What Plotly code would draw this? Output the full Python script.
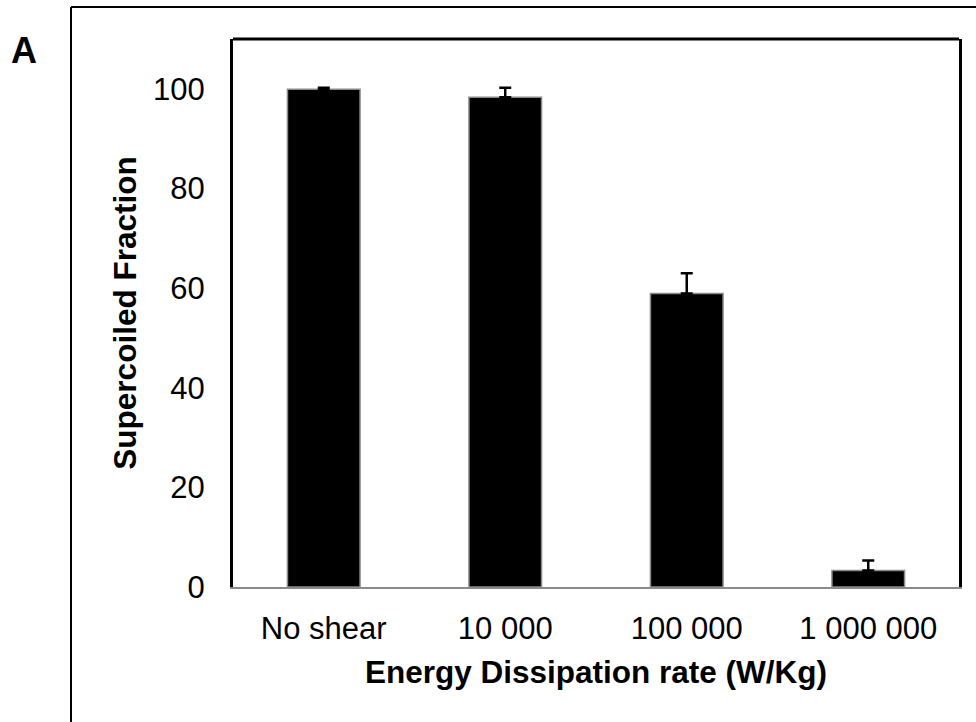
import plotly.graph_objects as go

# Supercoiled fraction of plasmid DNA after shear exposure
categories = ["No shear", "10 000", "100 000", "1 000 000"]
supercoiled = [99.9, 98.3, 58.9, 3.3]
error_up = [0.3, 1.9, 4.1, 2.0]
y_ticks = [0, 20, 40, 60, 80, 100]

W, H = 976, 722
ml, mr, mt, mb = 233, 17, 39, 135
pw, ph = W - ml - mr, H - mt - mb

def px_x(x):
    return (x - ml) / pw

def px_y(y):
    return (H - mb - y) / ph

fig = go.Figure(
    go.Bar(
        x=categories,
        y=supercoiled,
        width=0.4,
        marker=dict(color="black", line=dict(color="#8a8a8a", width=1.5)),
        error_y=dict(
            type="data",
            symmetric=False,
            array=error_up,
            arrayminus=[0] * len(error_up),
            color="black",
            thickness=2.5,
            width=6,
        ),
    )
)

font_family = "Liberation Sans, Arial, sans-serif"

fig.update_layout(
    width=W,
    height=H,
    margin=dict(l=ml, r=mr, t=mt, b=mb),
    paper_bgcolor="white",
    plot_bgcolor="white",
    showlegend=False,
    font=dict(family=font_family, color="black", size=31),
    bargap=0.6,
    xaxis=dict(
        showgrid=False,
        showline=True,
        linecolor="#8a8a8a",
        linewidth=2,
        ticks="",
        ticklabelstandoff=13,
        tickfont=dict(size=31),
        title=dict(
            text="<b>Energy Dissipation rate (W/Kg)</b>",
            font=dict(size=31.5),
            standoff=16,
        ),
    ),
    yaxis=dict(
        range=[0, 110],
        tickvals=y_ticks,
        showgrid=False,
        zeroline=False,
        showline=True,
        linecolor="black",
        linewidth=3,
        mirror=True,
        ticks="",
        ticklabelstandoff=19,
        tickfont=dict(size=31),
        title=dict(
            text="<b>Supercoiled Fraction</b>",
            font=dict(size=31.5),
            standoff=8,
        ),
    ),
    shapes=[
        # top edge of the plotting frame
        dict(type="line", xref="paper", yref="paper", x0=0, x1=1, y0=1, y1=1,
             line=dict(color="black", width=3)),
        # outer panel frame (left and top)
        dict(type="line", xref="paper", yref="paper",
             x0=px_x(71), x1=px_x(71), y0=px_y(7), y1=px_y(730),
             line=dict(color="black", width=2)),
        dict(type="line", xref="paper", yref="paper",
             x0=px_x(71), x1=px_x(990), y0=px_y(7), y1=px_y(7),
             line=dict(color="black", width=2)),
    ],
    annotations=[
        dict(text="<b>A</b>", xref="paper", yref="paper",
             x=px_x(24), y=px_y(51), xanchor="center", yanchor="middle",
             showarrow=False, font=dict(size=36, family=font_family)),
    ],
)

fig.write_html("out.html")
